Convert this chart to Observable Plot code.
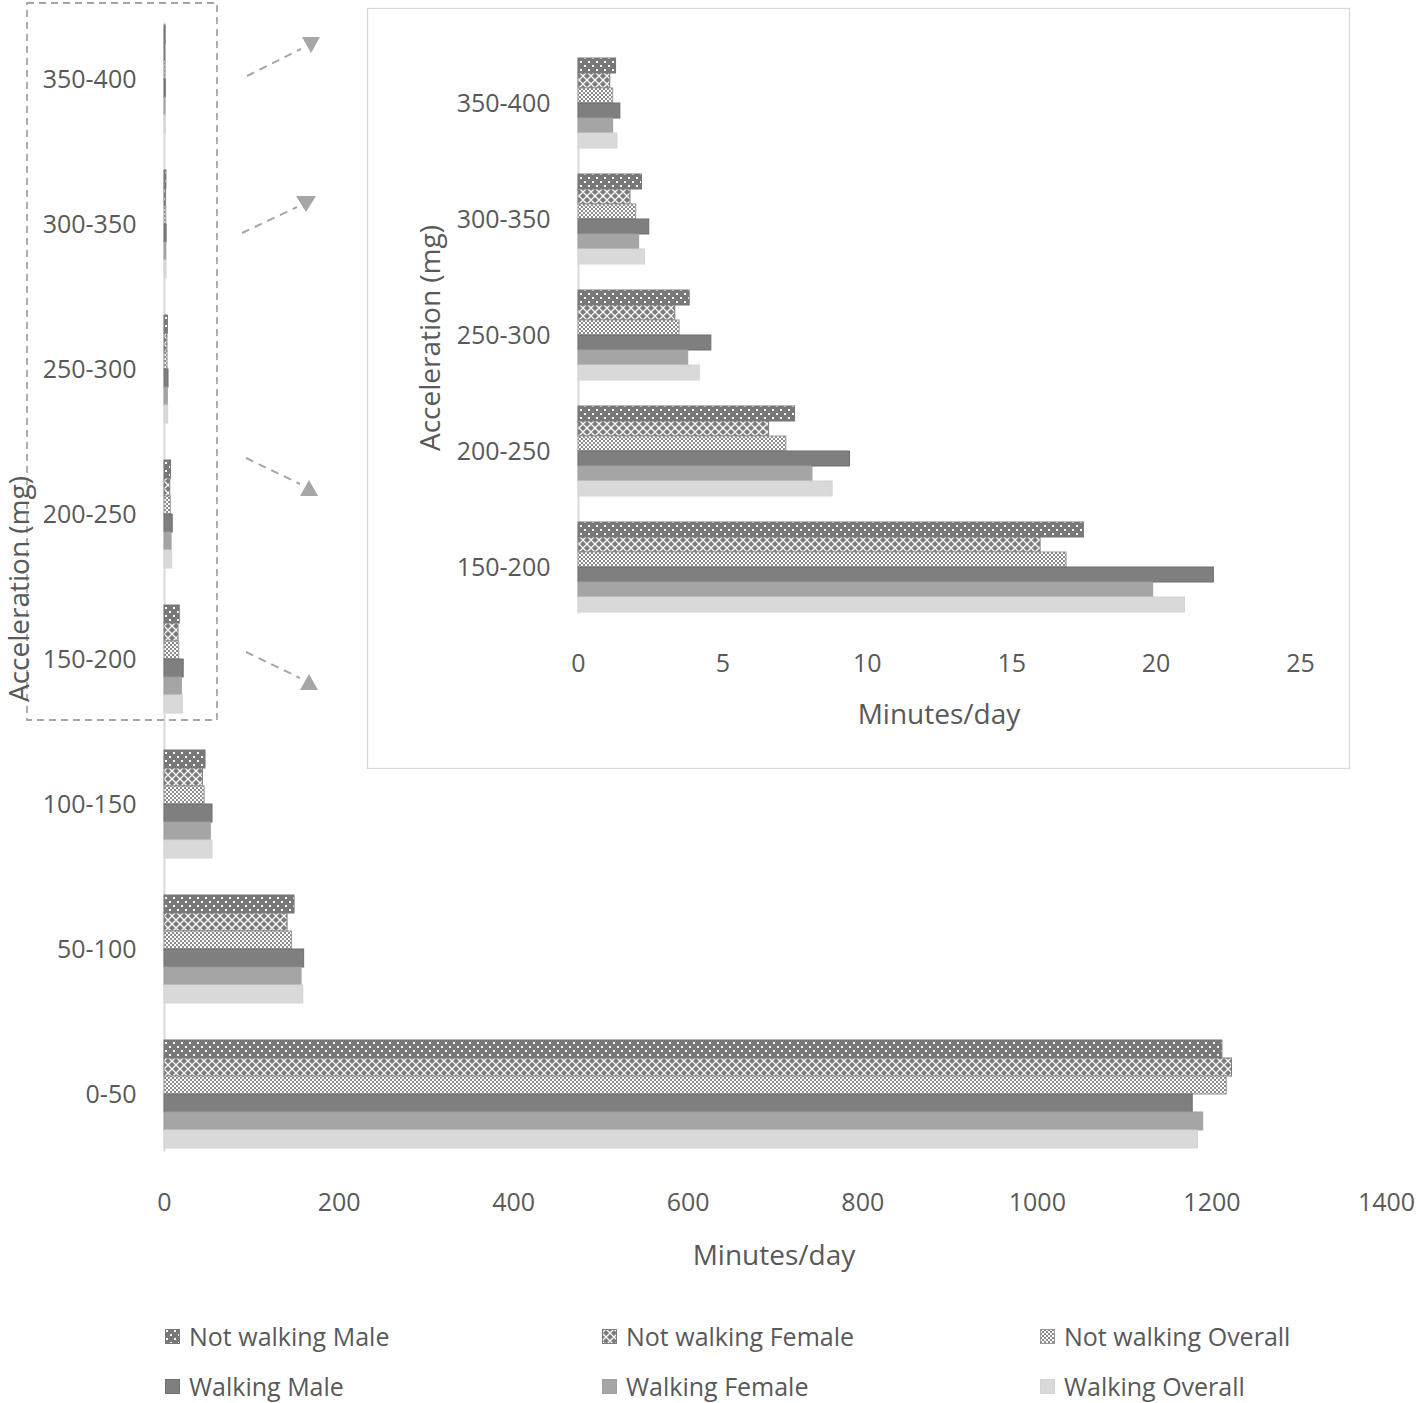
<!DOCTYPE html>
<html>
<head>
<meta charset="utf-8">
<script src="https://cdn.jsdelivr.net/npm/d3@7"></script>
<script src="https://cdn.jsdelivr.net/npm/@observablehq/plot@0.6"></script>
<style>
  html, body { margin: 0; padding: 0; background: #fff; }
  #wrap { position: relative; width: 1418px; height: 1403px; background: #fff; font-family: "Open Sans", sans-serif; color: #595959; overflow: hidden; }
  .abs { position: absolute; }
  .title { position: absolute; font-size: 28px; white-space: nowrap; line-height: 1; color: #595959; }
  .leg { position: absolute; font-size: 25px; white-space: nowrap; line-height: 1; color: #595959; display: flex; align-items: center; }
  .leg svg { margin-right: 9px; }
</style>
</head>
<body>
<div id="wrap">
  <svg width="0" height="0" style="position:absolute">
    <defs>
      <pattern id="pNWM" width="8" height="8" patternUnits="userSpaceOnUse">
        <rect width="8" height="8" fill="#787878"/>
        <rect x="1" y="1" width="2" height="2" fill="#ffffff"/>
        <rect x="5" y="5" width="2" height="2" fill="#ffffff"/>
      </pattern>
      <pattern id="pNWF" width="8" height="8" patternUnits="userSpaceOnUse">
        <rect width="8" height="8" fill="#7c7c7c"/>
        <path d="M0,4 L4,0 L8,4 L4,8 Z" fill="none" stroke="#ffffff" stroke-width="1.3"/>
      </pattern>
      <pattern id="pNWO" width="4" height="4" patternUnits="userSpaceOnUse">
        <rect width="4" height="4" fill="#ffffff"/>
        <rect x="0" y="0" width="2" height="2" fill="#8a8a8a"/>
        <rect x="2" y="2" width="2" height="2" fill="#8a8a8a"/>
      </pattern>
    </defs>
  </svg>
  <div id="main" class="abs" style="left:0;top:0"></div>
  <div id="inset" class="abs" style="left:367px;top:8px;width:983px;height:761px;background:#fff"></div>
  <svg id="deco" class="abs" style="left:0;top:0;pointer-events:none" width="1418" height="1300"></svg>
  <div class="title" style="left:18px;top:589px;transform:translate(-50%,-50%) rotate(-90deg)">Acceleration (mg)</div>
  <div class="title" style="left:774px;top:1254px;transform:translate(-50%,-50%)">Minutes/day</div>
  <div class="title" style="left:429px;top:338px;transform:translate(-50%,-50%) rotate(-90deg)">Acceleration (mg)</div>
  <div class="title" style="left:939px;top:713px;transform:translate(-50%,-50%)">Minutes/day</div>
  <div id="legend"></div>
</div>
<script>
// ---------- DATA ----------
const categories = ["0-50", "50-100", "100-150", "150-200", "200-250", "250-300", "300-350", "350-400"];
const insetCategories = ["150-200", "200-250", "250-300", "300-350", "350-400"];
const series = ["Not walking Male", "Not walking Female", "Not walking Overall", "Walking Male", "Walking Female", "Walking Overall"];
const notWalkingMale    = [1212, 149, 47, 17.5, 7.5, 3.85, 2.2, 1.3];
const notWalkingFemale  = [1223, 141, 44, 16.0, 6.6, 3.35, 1.8, 1.1];
const notWalkingOverall = [1217, 146, 46, 16.9, 7.2, 3.5, 2.0, 1.2];
const walkingMale       = [1178, 160, 55, 22.0, 9.4, 4.6, 2.45, 1.45];
const walkingFemale     = [1190, 157, 53, 19.9, 8.1, 3.8, 2.1, 1.2];
const walkingOverall    = [1184, 159, 55, 21.0, 8.8, 4.2, 2.3, 1.35];
const mainTicks = [0, 200, 400, 600, 800, 1000, 1200, 1400];
const insetTicks = [0, 5, 10, 15, 20, 25];

// ---------- STYLES ----------
const seriesValues = [notWalkingMale, notWalkingFemale, notWalkingOverall, walkingMale, walkingFemale, walkingOverall];
const fills = ["url(#pNWM)", "url(#pNWF)", "url(#pNWO)", "#7f7f7f", "#a5a5a5", "#d9d9d9"];
const strokes = ["#777777", "#7c7c7c", "#9a9a9a", "#6f6f6f", "#a0a0a0", "#d4d4d4"];
const fillFor = Object.fromEntries(series.map((s, i) => [s, fills[i]]));
const strokeFor = Object.fromEntries(series.map((s, i) => [s, strokes[i]]));

const rows = [];
series.forEach((s, i) => categories.forEach((c, j) => rows.push({cat: c, series: s, value: seriesValues[i][j]})));
const insetRows = rows.filter(d => insetCategories.includes(d.cat));

const fmt = d3.format("d");
const baseStyle = {fontFamily: "Open Sans", fontSize: "25px", color: "#595959", background: "transparent", overflow: "visible"};

function chart({data, cats, width, height, ml, mr, mt, mb, xdom, ticks, padIn, padOut, xPad}) {
  return Plot.plot({
    width, height, marginLeft: ml, marginRight: mr, marginTop: mt, marginBottom: mb,
    style: baseStyle,
    x: {domain: xdom, axis: null},
    y: {domain: series, padding: 0, axis: null},
    fy: {domain: [...cats].reverse(), paddingInner: padIn, paddingOuter: padOut, axis: null, label: null},
    color: {type: "identity"},
    marks: [
      Plot.frame({anchor: "left", stroke: "#d9d9d9", strokeWidth: 2, facet: "super"}),
      Plot.barX(data, {x: "value", y: "series", fy: "cat", fill: d => fillFor[d.series], stroke: d => strokeFor[d.series], strokeWidth: 1}),
      Plot.axisFy({anchor: "left", tickSize: 0, tickPadding: 28, label: null}),
      Plot.axisX({ticks, tickSize: 0, tickPadding: xPad, label: null, tickFormat: fmt})
    ]
  });
}

document.getElementById("main").appendChild(chart({
  data: rows, cats: categories, width: 1418, height: 1290, ml: 164, mr: 32, mt: 1, mb: 119,
  xdom: [0, 1400], ticks: mainTicks, padIn: 0.23, padOut: 0.13, xPad: 43
}));
document.getElementById("inset").appendChild(chart({
  data: insetRows, cats: insetCategories, width: 983, height: 761, ml: 211, mr: 50, mt: 34, mb: 140,
  xdom: [0, 25], ticks: insetTicks, padIn: 0.22, padOut: 0.13, xPad: 42
}));

// ---------- DECORATIONS (zoom box, arrows, inset frame) ----------
const deco = d3.select("#deco");
const g = "#a6a6a6";
deco.append("rect").attr("x", 27).attr("y", 3).attr("width", 190).attr("height", 717)
  .attr("fill", "none").attr("stroke", g).attr("stroke-width", 1.8).attr("stroke-dasharray", "7 5");
deco.append("rect").attr("x", 367.5).attr("y", 8.5).attr("width", 982).attr("height", 760)
  .attr("fill", "none").attr("stroke", "#d9d9d9").attr("stroke-width", 1.3);
const arrows = [
  {line: [247, 76, 301, 49], tri: [[302, 37], [320, 37], [311, 53]]},
  {line: [242, 233, 297, 207], tri: [[296, 196], [316, 196], [306, 212]]},
  {line: [246, 458, 300, 484], tri: [[300, 496], [318, 496], [309, 480]]},
  {line: [246, 652, 300, 678], tri: [[300, 690], [318, 690], [309, 674]]}
];
for (const a of arrows) {
  deco.append("line").attr("x1", a.line[0]).attr("y1", a.line[1]).attr("x2", a.line[2]).attr("y2", a.line[3])
    .attr("stroke", g).attr("stroke-width", 2).attr("stroke-dasharray", "8 6");
  deco.append("polygon").attr("points", a.tri.map(p => p.join(",")).join(" ")).attr("fill", g);
}

// ---------- LEGEND ----------
const legend = document.getElementById("legend");
const legCols = [165, 602, 1040];
const legRows = [1336, 1386];
series.forEach((s, i) => {
  const div = document.createElement("div");
  div.className = "leg";
  div.style.left = legCols[i % 3] + "px";
  div.style.top = (legRows[Math.floor(i / 3)] - 15) + "px";
  div.style.height = "30px";
  div.innerHTML = `<svg width="15" height="15"><rect x="0.5" y="0.5" width="14" height="14" fill="${fills[i]}" stroke="${strokes[i]}"/></svg><span>${s}</span>`;
  legend.appendChild(div);
});
</script>
</body>
</html>
